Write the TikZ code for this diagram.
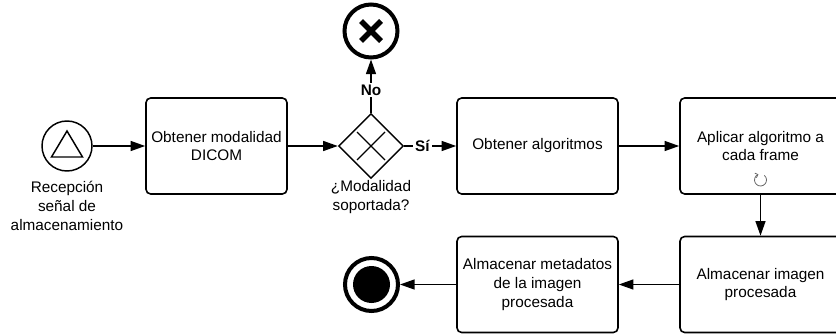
\documentclass[tikz,border=0pt]{standalone}
\usepackage{fontspec}
\setmainfont{Liberation Sans}
\usetikzlibrary{arrows.meta,shapes.geometric}
\begin{document}
\begin{tikzpicture}[x=0.75pt, y=-0.75pt, line width=1.1pt,
        font=\fontsize{11.5}{14}\selectfont,
        tarea/.style = {draw, rounded corners=3.5pt, line width=1.2pt, minimum width=120.75pt, minimum height=72pt, align=center, inner sep=2pt},
        evento/.style = {draw, circle, minimum size=37.5pt, inner sep=0pt},
        fin/.style = {draw, circle, line width=3pt, minimum size=39.75pt, inner sep=0pt},
        compuerta/.style = {draw, diamond, minimum size=48.75pt, inner sep=0pt},
        etiqueta/.style = {align=center, inner sep=0pt},
        decision/.style = {fill=white, font=\fontsize{11.5}{14}\selectfont\bfseries, inner sep=1.5pt},
        flujo/.style = {-{Triangle[length=11pt, width=7.5pt]}}]
        \clip (0,0) rectangle (836,335);

        \node[evento] (1) at (67,146) {};
        \node[etiqueta] (1l) at (67,206) {Recepción\\señal de\\almacenamiento};
        \node[tarea, minimum width=105.75pt] (2) at (216.5,146) {Obtener modalidad\\DICOM};
        \node[compuerta] (3) at (371,146) {};
        \node[etiqueta] (3l) at (371,197) {¿Modalidad\\soportada?};
        \node[fin] (4) at (371,31) {};
        \node[tarea] (5) at (537.5,146) {Obtener algoritmos};
        \node[tarea] (6) at (760.5,146) {Aplicar algoritmo a\\cada frame};
        \node[tarea] (7) at (760.5,284.5) {Almacenar imagen\\procesada};
        \node[tarea] (8) at (537.5,284.5) {Almacenar metadatos\\de la imagen\\procesada};
        \node[fin] (9) at (371.5,284.5) {};

        % markers inside the events and the gateway
        \draw (1.center) ++(0,-15) -- ++(15.5,26) -- ++(-31,0) -- cycle;
        \draw[line width=0.8pt] (3.center) ++(-14,-14) -- ++(28,28) ++(0,-28) -- ++(-28,28);
        \draw[line width=4pt] (4.center) ++(-10,-10) -- ++(20,20) ++(0,-20) -- ++(-20,20);
        \fill (9.center) circle (18.5);
        % loop marker of the task
        \draw[black!60, line width=0.6pt, -{Straight Barb[length=1.8pt]}] (760.5,180) ++(-50:6) arc[start angle=-50, end angle=250, radius=6];

        \draw[flujo] (1) -- (2);
        \draw[flujo] (2) -- (3);
        \draw[flujo] (3) -- node[decision, pos=0.43] {No} (4);
        \draw[flujo] (3) -- node[decision, pos=0.35] {Sí} (5);
        \draw[flujo] (5) -- (6);
        \draw[flujo] (6) -- (7);
        \draw[flujo] (7) -- (8);
        \draw[flujo] (8) -- (9);
\end{tikzpicture}
\end{document}
